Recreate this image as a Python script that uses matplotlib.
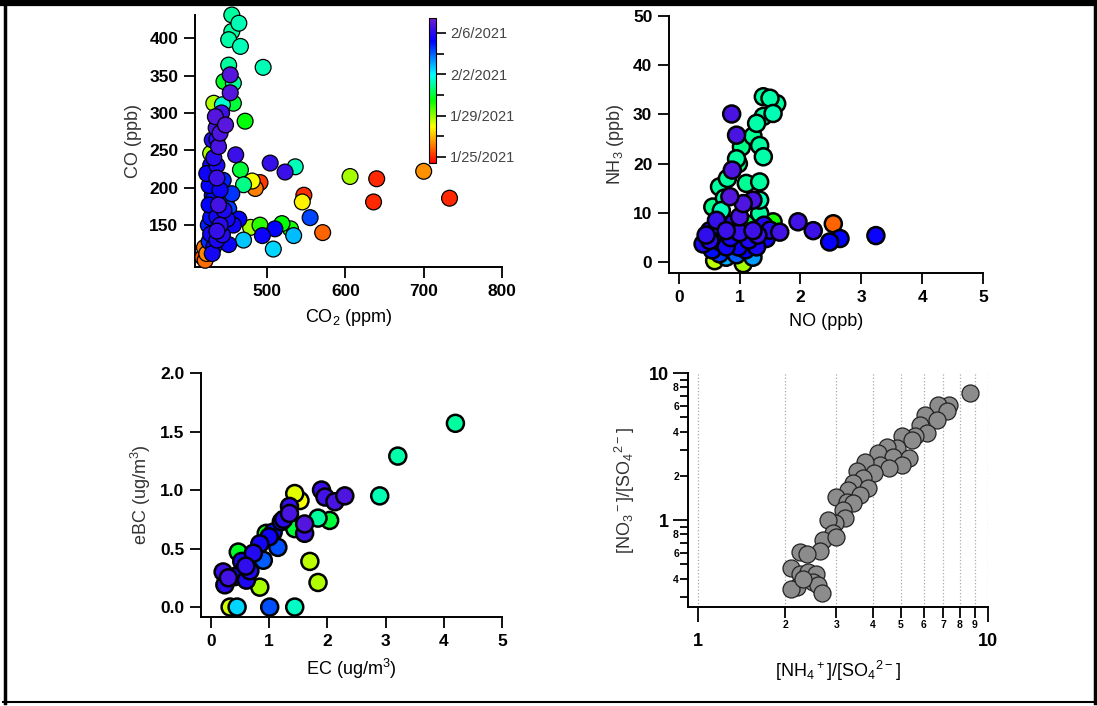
import matplotlib
matplotlib.use('Agg')
import numpy as np
import matplotlib.pyplot as plt
from matplotlib.colors import LinearSegmentedColormap, Normalize
from matplotlib.lines import Line2D
from matplotlib.ticker import FixedLocator
from datetime import date, timedelta

plt.rcParams['font.family'] = ['Liberation Sans', 'DejaVu Sans']
plt.rcParams['mathtext.default'] = 'regular'

# ---- data (day = days after 1/25/2021) ----
co2 = [455, 464, 455, 451, 466, 495, 451, 453, 445, 457, 453, 432, 443, 457, 472,
       447, 440, 438, 428, 460, 436, 504, 523, 536, 466, 436, 470, 481, 491, 485,
       440, 455, 547, 545, 606, 640, 636, 700, 733, 555, 571, 464, 436, 479, 491,
       494, 510, 519, 530, 534, 508, 470, 436, 428, 436, 432, 423, 421, 430, 426,
       432, 426, 423, 430, 434, 449, 451, 457, 443, 451, 438, 449,
       428, 425, 440, 445, 432, 442, 426, 420, 418, 430, 436, 428, 444, 435]
co = [431, 420, 409, 398, 389, 361, 364, 351, 342, 340, 327, 313, 311, 313, 289,
      284, 273, 255, 246, 244, 230, 233, 221, 228, 224, 213, 204, 209, 207, 199,
      197, 192, 190, 181, 215, 212, 181, 222, 186, 160, 140, 158, 161, 147, 150,
      136, 145, 152, 145, 136, 118, 130, 142, 138, 130, 121, 112, 103, 112, 177,
      186, 203, 219, 264, 295, 186, 172, 150, 137, 124, 177, 158,
      160, 150, 150, 170, 240, 300, 128, 120, 107, 190, 265, 230, 210, 280]
co_day = [7.0, 7.2, 7.0, 7.1, 7.3, 7.2, 7.0, 12.8, 5.8, 7.0, 12.8, 3.7, 7.5, 6.0, 5.5,
          12.9, 12.7, 12.6, 3.8, 12.3, 11.8, 12.2, 12.3, 7.3, 6.0, 12.4, 6.8, 3.0, 0.2, 1.2,
          11.5, 10.5, 0.1, 2.8, 3.8, 0.0, 0.0, 1.4, 0.0, 10.3, 0.8, 11.3, 11.6, 3.8, 5.0,
          11.4, 11.2, 5.5, 5.2, 8.8, 8.5, 8.7, 12.2, 11.6, 11.7, 11.5, 1.3, 0.9, 11.6, 11.2,
          11.0, 11.3, 11.5, 11.9, 12.8, 10.2, 10.4, 11.5, 11.9, 11.4, 12.5, 11.6,
          11.0, 10.8, 12.0, 11.8, 12.0, 12.4, 10.6, 1.0, 0.5, 10.9, 12.1, 11.4, 10.8, 12.6]

no = [0.87, 0.95, 0.88, 0.84, 1.39, 1.50, 1.61, 1.55, 1.39, 1.28, 1.22, 1.33, 1.03, 1.39,
      0.98, 1.33, 1.11, 1.33, 0.67, 0.56, 1.22, 1.06, 1.96, 2.21, 1.66, 1.22, 0.78, 2.54,
      2.48, 2.65, 3.24, 1.44, 1.55, 0.78, 0.98, 0.51, 0.40, 0.59, 1.06, 0.78, 1.22, 1.28,
      0.62, 1.00, 1.11, 1.33, 0.51, 0.67,
      0.45, 0.55, 0.70, 0.75, 0.90, 1.15, 1.40, 0.85, 0.60, 1.00, 0.70, 1.30, 0.95, 1.10,
      1.50, 0.80, 0.95]
nh3 = [30.1, 25.8, 18.7, 13.3, 33.6, 33.3, 32.2, 30.2, 29.6, 28.2, 25.6, 23.7, 23.4, 21.4,
       20.0, 16.3, 16.0, 12.6, 15.3, 11.2, 12.6, 11.9, 8.2, 6.4, 6.1, 6.4, 6.4, 7.8,
       4.1, 4.8, 5.4, 4.8, 8.2, 3.1, 3.1, 4.4, 3.7, 0.3, -0.3, 1.0, 1.0, 3.1,
       8.5, 9.2, 7.8, 9.9, 6.4, 1.7,
       5.5, 2.5, 10.5, 13.0, 8.0, 4.5, 7.5, 5.0, 6.0, 6.0, 4.0, 5.5, 1.5, 2.5,
       6.5, 17.0, 21.0]
nh3_day = [12.6, 12.6, 12.7, 12.8, 7.0, 7.1, 7.0, 7.2, 7.0, 7.1, 6.9, 7.0, 6.8, 7.1,
           6.7, 7.0, 6.9, 7.2, 7.0, 6.8, 12.6, 12.7, 12.5, 12.4, 12.5, 12.4, 12.3, 0.8,
           11.3, 11.2, 11.4, 11.5, 5.2, 11.6, 11.5, 12.0, 11.8, 3.6, 3.8, 9.0, 9.2, 11.7,
           12.2, 12.6, 6.2, 7.0, 11.9, 10.5,
           12.1, 11.0, 7.3, 7.1, 12.0, 11.8, 11.9, 11.7, 11.8, 12.2, 11.5, 12.3, 10.0, 11.2,
           12.0, 7.0, 7.0]

ec = [4.20, 3.21, 2.90, 2.30, 2.13, 1.90, 1.96, 1.84, 2.04, 1.44, 1.53, 1.35, 1.35, 1.61,
      1.61, 1.44, 1.21, 1.07, 1.15, 0.90, 0.84, 0.73, 0.47, 0.53, 0.21, 0.24, 0.41, 1.70,
      1.84, 0.84, 0.33, 0.45, 1.01, 1.44, 0.61, 0.95, 0.67, 1.25, 1.00, 0.60, 0.30]
ebc = [1.57, 1.29, 0.95, 0.95, 0.90, 1.00, 0.94, 0.76, 0.74, 0.97, 0.91, 0.86, 0.80, 0.71,
       0.63, 0.67, 0.73, 0.64, 0.51, 0.40, 0.54, 0.46, 0.47, 0.39, 0.30, 0.19, 0.26, 0.39,
       0.21, 0.17, 0.00, 0.00, 0.00, 0.00, 0.23, 0.63, 0.31, 0.75, 0.60, 0.35, 0.25]
ebc_day = [7.0, 7.1, 7.2, 12.7, 12.6, 12.3, 12.5, 7.0, 6.0, 3.2, 3.0, 12.2, 12.6, 12.8,
           12.4, 6.0, 11.8, 11.0, 10.2, 10.0, 11.6, 11.9, 5.8, 11.7, 12.4, 12.0, 11.5, 3.6,
           3.7, 3.8, 3.4, 8.5, 10.2, 7.4, 11.8, 5.5, 11.9, 12.0, 11.5, 12.1, 12.5]

nh4_so4 = [8.69, 7.31, 6.75, 7.20, 6.07, 6.67, 5.84, 6.15, 5.61, 5.04, 5.46, 4.84, 4.48,
           4.19, 4.72, 5.32, 5.04, 4.24, 4.54, 3.77, 3.53, 4.03, 3.71, 3.43, 3.87, 3.30,
           3.62, 3.00, 3.26, 3.43, 3.17, 3.21, 2.97, 2.81, 2.93, 2.70, 3.00, 2.63, 2.25,
           2.37, 2.10, 2.24, 2.40, 2.56, 2.19, 2.50, 2.60, 2.67, 2.10, 2.31]
no3_so4 = [7.30, 6.08, 6.08, 5.48, 5.20, 4.81, 4.44, 3.90, 3.70, 3.70, 3.51, 3.08, 3.16,
           2.85, 2.70, 2.63, 2.37, 2.37, 2.25, 2.50, 2.14, 2.08, 1.92, 1.78, 1.64, 1.60,
           1.48, 1.44, 1.33, 1.30, 1.17, 1.03, 0.95, 1.00, 0.81, 0.73, 0.77, 0.62, 0.61,
           0.59, 0.47, 0.43, 0.44, 0.43, 0.35, 0.38, 0.36, 0.32, 0.34, 0.40]

cbar_major = [0, 4, 8, 12]
cbar_minor = [2, 6, 10]
day_min, day_max = -0.6, 13.45

# ---- style ----
W, H = 1097, 706
cmap = LinearSegmentedColormap.from_list('igor_rainbow', [
    (0.0, (1.0, 0.0, 0.0)), (0.25, (1.0, 1.0, 0.0)), (0.43, (0.0, 1.0, 0.0)),
    (0.61, (0.0, 1.0, 1.0)), (0.84, (0.0, 0.0, 1.0)), (1.0, (0.45, 0.12, 0.82))])
norm = Normalize(day_min, day_max)

fig = plt.figure(figsize=(W / 100, H / 100), dpi=100)


def px_axes(left, top, right, bottom):
    return fig.add_axes([left / W, 1 - bottom / H, (right - left) / W, (bottom - top) / H])


def style(ax):
    for s in ['top', 'right']:
        ax.spines[s].set_visible(False)
    for s in ['left', 'bottom']:
        ax.spines[s].set_linewidth(1.4)
    ax.tick_params(direction='out', length=8, width=1.3, pad=4)


def sorted_scatter(ax, x, y, d, lw, size):
    order = np.argsort(d, kind='stable')
    x, y, d = np.asarray(x)[order], np.asarray(y)[order], np.asarray(d)[order]
    return ax.scatter(x, y, c=d, cmap=cmap, norm=norm, s=size, edgecolors='black',
                      linewidths=lw, zorder=3, clip_on=False)


bold = dict(fontweight='bold', fontsize=12.5)

# panel 1: CO vs CO2
ax1 = px_axes(195, 15, 502, 267)
style(ax1)
sc = sorted_scatter(ax1, co2, co, co_day, 0.9, 130)
ax1.set_xlim(408, 800)
ax1.set_ylim(94, 431)
ax1.set_xticks([500, 600, 700, 800], ['500', '600', '700', '800'], **bold)
ax1.set_yticks([150, 200, 250, 300, 350, 400], ['150', '200', '250', '300', '350', '400'], **bold)
ax1.set_xlabel('CO$_2$ (ppm)', fontsize=13, labelpad=6)
ax1.set_ylabel('CO (ppb)', fontsize=13, color='#333333', labelpad=5)

cax = px_axes(429, 18, 436, 163)
cb = fig.colorbar(sc, cax=cax)
cb.outline.set_linewidth(0.8)
labels = [(date(2021, 1, 25) + timedelta(days=d)).strftime('%m/%d/%Y').lstrip('0').replace('/0', '/')
          for d in cbar_major]
cb.set_ticks(cbar_major, labels=labels, fontsize=10.5, color='#444444')
cax.yaxis.set_minor_locator(FixedLocator(cbar_minor))
cax.tick_params(which='major', length=7, width=1.2, pad=3)
cax.tick_params(which='minor', length=6, width=1.2)

# panel 2: NH3 vs NO
ax2 = px_axes(669, 16, 983, 273)
style(ax2)
sorted_scatter(ax2, no, nh3, nh3_day, 1.8, 150)
ax2.set_xlim(-0.16, 5)
ax2.set_ylim(-2.2, 50)
ax2.set_xticks(range(6), [str(i) for i in range(6)], **bold)
ax2.set_yticks(range(0, 51, 10), [str(i) for i in range(0, 51, 10)], **bold)
ax2.set_xlabel('NO (ppb)', fontsize=13, labelpad=6)
ax2.set_ylabel('NH$_3$ (ppb)', fontsize=13, color='#333333', labelpad=5)

# panel 3: eBC vs EC
ax3 = px_axes(201, 373, 502, 617)
style(ax3)
sorted_scatter(ax3, ec, ebc, ebc_day, 1.8, 150)
ax3.set_xlim(-0.17, 5)
ax3.set_ylim(-0.085, 2.0)
ax3.set_xticks(range(6), [str(i) for i in range(6)], **bold)
ax3.set_yticks([0, 0.5, 1.0, 1.5, 2.0], ['0.0', '0.5', '1.0', '1.5', '2.0'], **bold)
ax3.set_xlabel('EC (ug/m$^3$)', fontsize=13, labelpad=6)
ax3.set_ylabel('eBC (ug/m$^3$)', fontsize=13, color='#333333', labelpad=5)

# panel 4: log-log ratios
ax4 = px_axes(688, 373, 988, 607)
style(ax4)
ax4.set_xscale('log')
ax4.set_yscale('log')
ax4.scatter(nh4_so4, no3_so4, s=150, color='#8c8c8c', edgecolors='#222222',
            linewidths=0.9, zorder=3)
ax4.set_xlim(0.924, 10)
ax4.set_ylim(0.256, 10)
ax4.set_xticks([1, 10], ['1', '10'], fontweight='bold', fontsize=13)
ax4.set_xticks(range(2, 10), [str(i) for i in range(2, 10)], minor=True,
               fontweight='bold', fontsize=7.5)
ax4.set_yticks([1, 10], ['1', '10'], fontweight='bold', fontsize=13)
ymin = [0.3, 0.4, 0.5, 0.6, 0.7, 0.8, 0.9, 2, 3, 4, 5, 6, 7, 8, 9]
ymin_lab = ['', '4', '', '6', '', '8', '', '2', '', '4', '', '6', '', '8', '']
ax4.set_yticks(ymin, ymin_lab, minor=True, fontweight='bold', fontsize=7.5)
ax4.tick_params(axis='x', which='major', length=11, width=1.3, pad=8)
ax4.tick_params(axis='x', which='minor', length=8, width=1.3, pad=1)
ax4.tick_params(axis='y', which='major', length=11, width=1.3, pad=3)
ax4.tick_params(axis='y', which='minor', length=6, width=1.3, pad=0.5)
ax4.xaxis.grid(True, which='both', linestyle=':', color='#aaaaaa', linewidth=0.9)
ax4.set_axisbelow(True)
ax4.set_xlabel('[NH$_4$$^+$]/[SO$_4$$^{2-}$]', fontsize=13, labelpad=6)
ax4.set_ylabel('[NO$_3$$^-$]/[SO$_4$$^{2-}$]', fontsize=13, color='#333333', labelpad=8)

# outer frame
def fline(x0, y0, x1, y1, lw):
    fig.add_artist(Line2D([x0 / W, x1 / W], [1 - y0 / H, 1 - y1 / H],
                          transform=fig.transFigure, color='black', linewidth=lw))

fline(3, 3, 1095, 3, 4.5)
fline(5, 0, 5, 703, 2.5)
fline(1095, 0, 1095, 703, 2.5)
fline(3, 702, 1097, 702, 1.5)

fig.savefig('out.png', dpi=100, facecolor='white')
